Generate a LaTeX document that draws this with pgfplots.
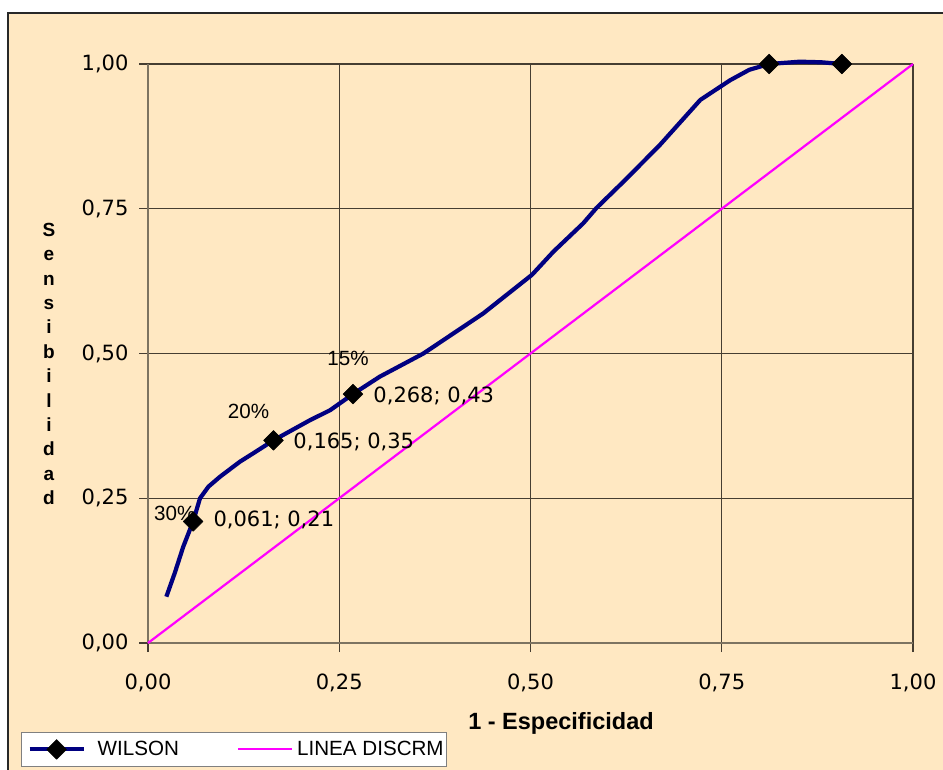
\documentclass[border=0pt]{standalone}
\usepackage{pgfplots}
\pgfplotsset{compat=1.18}
\usepackage{fontspec}
\setmainfont{Liberation Sans}
\newfontfamily\verdana{DejaVu Sans}
\definecolor{bgc}{RGB}{255,232,194}
\definecolor{gridc}{RGB}{70,62,50}
\definecolor{axc}{RGB}{125,115,97}
\definecolor{wilson}{RGB}{0,0,128}
\definecolor{discr}{RGB}{255,0,255}
\definecolor{legb}{RGB}{128,128,128}

\begin{document}
\begin{tikzpicture}[x=1pt,y=1pt]
\useasboundingbox (0,0) rectangle (943,769);
\begin{scope}
\clip (0,0) rectangle (943,769);
\fill[bgc] (8,756) rectangle (960,-20);
\draw[line width=1.5pt, color={rgb,255:red,40;green,40;blue,40}] (8,-20) -- (8,756) -- (960,756);
\end{scope}
\begin{axis}[
  at={(148pt,126pt)}, anchor=south west,
  scale only axis, width=765pt, height=579pt,
  xmin=0, xmax=1, ymin=0, ymax=1,
  xtick={0,0.25,0.5,0.75,1}, ytick={0,0.25,0.5,0.75,1},
  axis x line*=bottom, axis y line*=left,
  axis line style={color=axc, line width=2pt},
  tick align=outside, major tick length=9pt,
  tick style={color=gridc, line width=1.2pt},
  grid=major, major grid style={color=gridc, line width=1.3pt},
  /pgf/number format/.cd, fixed, fixed zerofill, precision=2, use comma, assume math mode=true,
  /pgfplots/.cd,
  ticklabel style={font=\verdana\fontsize{21}{25}\selectfont},
  xticklabel style={yshift=-18pt},
  yticklabel style={xshift=-7pt},
  clip=false,
  legend style={at={(axis description cs:-0.166,-0.1537)}, anchor=north west,
    draw=legb, line width=1pt, fill=white,
    font=\fontsize{20.6}{24}\selectfont,
    inner xsep=3pt, inner ysep=7pt,
    nodes={inner sep=0pt},
    /tikz/column 1/.style={column sep=12pt},
    /tikz/column 2/.style={column sep=55pt},
    /tikz/column 3/.style={column sep=4pt}},
  legend columns=2,
  legend image code/.code={\path (0pt,0pt); \draw[#1, mark indices={2}] plot coordinates {(3pt,0pt) (30pt,0pt) (57pt,0pt)};},
]
\addplot[color=wilson, line width=4.2pt, line join=round, mark=square*,
  mark size=7pt, mark indices={4,10,13,26,29},
  mark options={fill=black, draw=black, line width=0.5pt, rotate=45}]
  coordinates {
  (0.024,0.080) (0.035,0.121) (0.046,0.166) (0.059,0.210) (0.068,0.250)
  (0.079,0.270) (0.094,0.287) (0.120,0.313) (0.138,0.328) (0.164,0.350)
  (0.212,0.385) (0.238,0.402) (0.268,0.430) (0.303,0.460) (0.360,0.500)
  (0.438,0.569) (0.502,0.636) (0.530,0.676) (0.569,0.725) (0.586,0.751)
  (0.624,0.800) (0.669,0.860) (0.722,0.938) (0.761,0.972) (0.786,0.990)
  (0.812,1.000) (0.852,1.004) (0.880,1.003) (0.907,1.000)
  };
\addlegendentry{WILSON}
\addplot[color=discr, line width=2.2pt, no marks] coordinates {(0,0) (1,1)};
\addlegendentry{LINEA DISCRM}
\node[anchor=west, inner sep=0pt, font=\fontsize{20.6}{24}\selectfont] at (axis cs:0.0078,0.2245) {30\%};
\node[inner sep=0pt, font=\fontsize{20.6}{24}\selectfont] at (axis cs:0.1314,0.3995) {20\%};
\node[inner sep=0pt, font=\fontsize{20.6}{24}\selectfont] at (axis cs:0.2614,0.4922) {15\%};
\node[anchor=west, inner sep=0pt, font=\verdana\fontsize{21}{25}\selectfont] at (axis cs:0.0854,0.2124) {0,061; 0,21};
\node[anchor=west, inner sep=0pt, font=\verdana\fontsize{21}{25}\selectfont] at (axis cs:0.1899,0.3477) {0,165; 0,35};
\node[anchor=west, inner sep=0pt, font=\verdana\fontsize{21}{25}\selectfont] at (axis cs:0.2945,0.4266) {0,268; 0,43};
\end{axis}
\node[font=\bfseries\fontsize{23.5}{28}\selectfont] at (561,46) {1 - Especificidad};
\node[font=\bfseries\fontsize{19}{24.4}\selectfont, align=center, inner sep=0pt] at (49,405) {S\\e\\n\\s\\i\\b\\i\\l\\i\\d\\a\\d};
\end{tikzpicture}
\end{document}
